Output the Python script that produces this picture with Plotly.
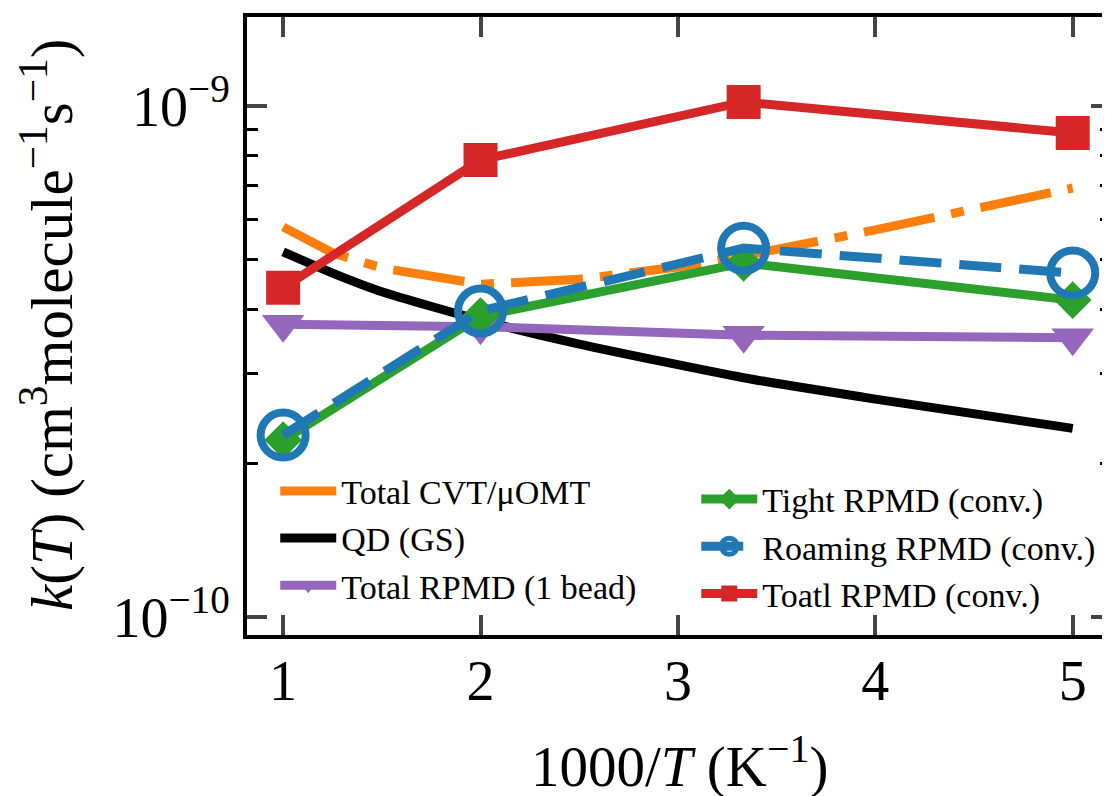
import plotly.graph_objects as go

# ---- data ----
x_curve = [1.0, 1.25, 1.5, 2.0, 2.5, 3.0, 3.333, 4.0, 5.0]
k_cvt = [5.80e-10, 5.16e-10, 4.82e-10, 4.48e-10, 4.58e-10, 4.84e-10, 5.09e-10, 5.72e-10, 6.91e-10]

x_qd = [1.0, 1.25, 1.5, 2.0, 2.5, 3.333, 4.0, 5.0]
k_qd = [5.18e-10, 4.71e-10, 4.33e-10, 3.81e-10, 3.42e-10, 2.94e-10, 2.67e-10, 2.34e-10]

x_rpmd = [1.0, 2.0, 3.333, 5.0]
k_1bead = [3.74e-10, 3.70e-10, 3.56e-10, 3.52e-10]
k_tight = [2.22e-10, 3.88e-10, 4.93e-10, 4.17e-10]
k_roam = [2.27e-10, 3.97e-10, 5.27e-10, 4.71e-10]
k_total = [4.41e-10, 7.84e-10, 1.018e-9, 8.85e-10]

x_ticks = [1, 2, 3, 4, 5]
y_major = [1e-10, 1e-9]
y_major_text = ["10<sup>\u221210</sup>", "10<sup>\u22129</sup>"]
y_minor = [2e-10, 3e-10, 4e-10, 5e-10, 6e-10, 7e-10, 8e-10, 9e-10]

names = ["Total CVT/\u03bcOMT", "QD (GS)", "Total RPMD (1 bead)",
         "Tight RPMD (conv.)", "Roaming RPMD (conv.)", "Toatl RPMD (conv.)"]

FONT = "Liberation Serif, Times New Roman, Times, serif"
LW = 9

# plot-area pixel geometry (page has an 8px body margin)
PL, PR, PT, PB = 247, 1115, 17, 635
PW, PH = PR - PL, PB - PT


def px(xp):
    return (xp - PL) / PW


def py(yp):
    return (PB - yp) / PH


fig = go.Figure()
fig.add_trace(go.Scatter(x=x_curve, y=k_cvt, mode="lines", name=names[0],
                         line=dict(color="#ff7f0e", width=LW, dash="72px,17px,13px,17px"),
                         legend="legend"))
fig.add_trace(go.Scatter(x=x_qd, y=k_qd, mode="lines", name=names[1],
                         line=dict(color="black", width=LW, shape="spline", smoothing=0.6),
                         legend="legend"))
fig.add_trace(go.Scatter(x=x_rpmd, y=k_1bead, mode="lines+markers", name=names[2],
                         line=dict(color="#9467bd", width=LW),
                         marker=dict(symbol="triangle-down", size=37, color="#9467bd"),
                         legend="legend"))
fig.add_trace(go.Scatter(x=x_rpmd, y=k_tight, mode="lines+markers", name=names[3],
                         line=dict(color="#2ca02c", width=LW),
                         marker=dict(symbol="diamond", size=29, color="#2ca02c"),
                         legend="legend2"))
fig.add_trace(go.Scatter(x=x_rpmd, y=k_roam, mode="lines+markers", name=names[4],
                         line=dict(color="#1f77b4", width=LW, dash="42px,18px"),
                         marker=dict(symbol="circle-open", size=45, color="#1f77b4",
                                     line=dict(width=8, color="#1f77b4")),
                         legend="legend2"))
fig.add_trace(go.Scatter(x=x_rpmd, y=k_total, mode="lines+markers", name=names[5],
                         line=dict(color="#d62728", width=LW),
                         marker=dict(symbol="square", size=34, color="#d62728"),
                         legend="legend2"))

yrange = [-10.035, -8.826]

fig.update_layout(
    width=1110, height=796,
    margin=dict(l=PL - 8, r=1110 + 8 - PR, t=PT - 8, b=796 + 8 - PB),
    paper_bgcolor="white", plot_bgcolor="white",
    font=dict(family=FONT, color="black"),
    showlegend=True,
    xaxis=dict(range=[0.817, 5.194], tickvals=x_ticks, ticks="inside", ticklen=20,
               tickwidth=4, showline=True, linewidth=4, linecolor="black",
               mirror="ticks", showgrid=False, zeroline=False,
               tickfont=dict(size=56, family=FONT), ticklabelstandoff=-6),
    yaxis=dict(type="log", range=yrange, tickvals=y_major, ticktext=y_major_text,
               ticks="inside", ticklen=20, tickwidth=4, showline=True, linewidth=4,
               linecolor="black", mirror="ticks", showgrid=False, zeroline=False,
               tickfont=dict(size=56, family=FONT), ticklabelstandoff=2,
               minor=dict(tickvals=y_minor, ticks="inside", ticklen=11, tickwidth=3,
                          tickcolor="black", showgrid=False)),
    legend=dict(x=0.0396 - 6 / PW, y=0.0335, xanchor="left", yanchor="bottom",
                bgcolor="rgba(0,0,0,0)", font=dict(size=34, family=FONT),
                itemwidth=56, tracegroupgap=0),
    legend2=dict(x=0.5269 - 6 / PW, y=0.0203, xanchor="left", yanchor="bottom",
                 bgcolor="rgba(0,0,0,0)", font=dict(size=34, family=FONT),
                 itemwidth=56, tracegroupgap=0),
    annotations=[
        dict(text="<i>k</i>(<i>T</i>) (cm<sup>3</sup>molecule<sup>\u22121</sup>s<sup>\u22121</sup>)",
             xref="paper", yref="paper", x=px(46), y=py(325),
             xanchor="center", yanchor="middle", textangle=-90, showarrow=False,
             font=dict(size=59, family=FONT)),
        dict(text="1000/<i>T</i> (K<sup>\u22121</sup>)",
             xref="paper", yref="paper", x=px(681), y=py(762),
             xanchor="center", yanchor="middle", showarrow=False,
             font=dict(size=57, family=FONT)),
    ],
)

fig.write_html("out.html")
